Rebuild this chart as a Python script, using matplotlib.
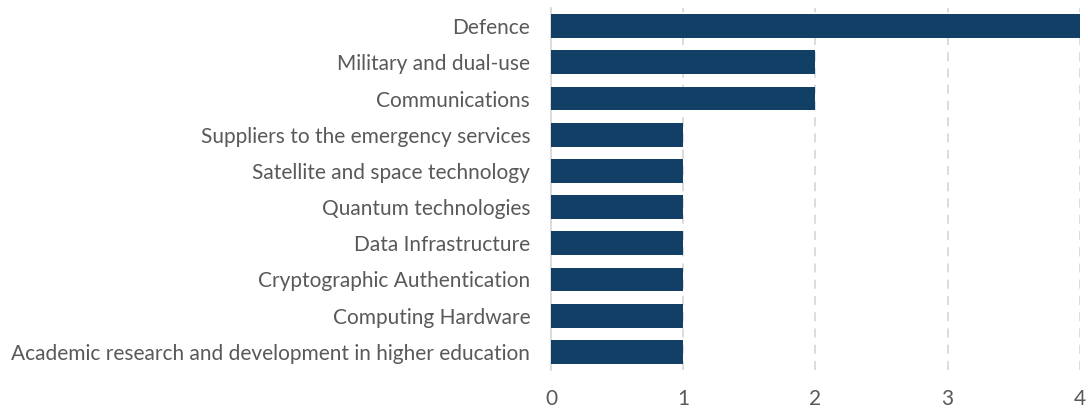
import matplotlib
matplotlib.use('Agg')
import matplotlib.pyplot as plt

# Categorias y valores (de arriba a abajo)
categorias = [
    "Defence",
    "Military and dual-use",
    "Communications",
    "Suppliers to the emergency services",
    "Satellite and space technology",
    "Quantum technologies",
    "Data Infrastructure",
    "Cryptographic Authentication",
    "Computing Hardware",
    "Academic research and development in higher education",
]
valores = [4, 2, 2, 1, 1, 1, 1, 1, 1, 1]
ticks_x = [0, 1, 2, 3, 4]

color_barra = '#123F66'
color_texto = '#595959'

plt.rcParams['font.family'] = ['Lato', 'DejaVu Sans']

fig = plt.figure(figsize=(10.88, 4.09), dpi=100)
ax = fig.add_axes([0.5064, 0.0954, 0.4862, 0.8850])

pos = list(range(len(categorias)))
ax.barh(pos, valores, height=0.66, color=color_barra, zorder=3)

ax.set_ylim(len(categorias) - 0.5, -0.5)
ax.set_xlim(0, 4)
ax.set_yticks(pos)
ax.set_yticklabels(categorias, fontsize=15, color=color_texto)
ax.set_xticks(ticks_x)
ax.set_xticklabels([str(t) for t in ticks_x], fontsize=15, color=color_texto)

ax.grid(axis='x', color='#D9D9D9', linestyle=(0, (5, 4)), linewidth=1.3, zorder=0)
for lado in ['top', 'right', 'bottom']:
    ax.spines[lado].set_visible(False)
ax.spines['left'].set_color('#D9D9D9')
ax.spines['left'].set_linewidth(1.3)
ax.tick_params(axis='both', length=0)
ax.tick_params(axis='y', pad=15)
ax.tick_params(axis='x', pad=14)

fig.savefig('out.png', dpi=100)
plt.close(fig)
